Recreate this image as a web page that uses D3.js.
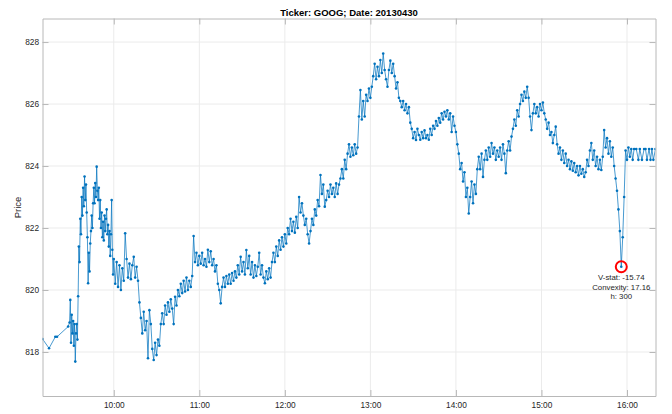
<!DOCTYPE html>
<html><head><meta charset="utf-8">
<script src="https://cdn.jsdelivr.net/npm/d3@7"></script>
<style>body{margin:0;background:#fff}svg{display:block}</style>
</head><body><svg id="c" width="672" height="414"></svg>
<script>
// ---- data (minutes after 09:00, trade price) ----
const preOpenTimes  = [10, 14.6, 19, 20.2, 28, 29];
const preOpenPrices = [818.42, 818.12, 818.49, 818.49, 818.82, 818.95];

const sessionTimes = [
 29.5,30,30.5,31,31.5,32,32.5,33,33.5,34,
 34.5,35,35.5,36,36.5,37,37.5,38,38.5,39,
 39.5,40,40.5,41,41.5,42,42.5,43,43.5,44,
 44.5,45,45.5,46,46.5,47,47.5,48,48.5,49,
 49.5,50,50.5,51,51.5,52,52.5,53,53.5,54,
 54.5,55,55.5,56,56.5,57,57.5,58,58.5,59,
 59.5,60,
 61,62,63,64,65,66,67,68,69,70,
 71,72,73,74,75,76,77,78,79,80,
 81,82,83,84,85,86,87,88,89,90,
 91,92,93,94,95,96,97,98,99,100,
 101,102,103,104,105,106,107,108,109,110,
 111,112,113,114,115,116,117,118,119,120,
 121,122,123,124,125,126,127,128,129,130,
 131,132,133,134,135,136,137,138,139,140,
 141,142,143,144,145,146,147,148,149,150,
 151,152,153,154,155,156,157,158,159,160,
 161,162,163,164,165,166,167,168,169,170,
 171,172,173,174,175,176,177,178,179,180,
 181,182,183,184,185,186,187,188,189,190,
 191,192,193,194,195,196,197,198,199,200,
 201,202,203,204,205,206,207,208,209,210,
 211,212,213,214,215,216,217,218,219,220,
 221,222,223,224,225,226,227,228,229,230,
 231,232,233,234,235,236,237,238,239,240,
 241,242,243,244,245,246,247,248,249,250,
 251,252,253,254,255,256,257,258,259,260,
 261,262,263,264,265,266,267,268,269,270,
 271,272,273,274,275,276,277,278,279,280,
 281,282,283,284,285,286,287,288,289,290,
 291,292,293,294,295,296,297,298,299,300,
 301,302,303,304,305,306,307,308,309,310,
 311,312,313,314,315,316,317,318,319,320,
 321,322,323,324,325,326,327,328,329,330,
 331,332,333,334,335,336,337,338,339,340,
 341,342,343,344,345,346,347,348,349,350,
 351,352,353,354,355,356,357,358,359,360,
 361,362,363,364,365,366,367,368,369,370,
 371,372,373,374,375,376,377,378,379,380,
 381,382,383,384,385,386,387,388,389,390,
 391,392,393,394,395,396,397,398,399,400,
 401,402,403,404,405,406,407,408,409,410,
 411,412,413,414,415,416,417,418,419,420,
 421,422
];
const sessionPrices = [
 819.68,818.3,819.2,818.6,819.0,818.2,818.9,817.69,818.6,818.9,
 818.4,819.8,821.4,820.9,822.3,821.8,823.0,822.4,823.3,822.7,
 823.66,822.9,823.4,822.5,821.7,820.22,821.2,820.6,821.5,821.9,
 822.4,822.0,822.8,823.3,822.8,823.45,823.0,823.98,823.2,822.9,
 823.3,822.3,822.9,822.0,822.5,821.7,822.2,821.6,822.4,821.9,
 822.3,822.6,821.8,822.1,821.4,821.9,821.1,821.8,822.9,821.3,
 820.5,821.0,
 820.2,820.9,820.1,820.8,820.0,820.7,820.3,821.83,821.0,820.4,
 820.85,820.35,820.8,821.07,820.4,820.75,820.3,819.6,819.1,818.6,
 819.3,818.7,819.0,817.8,819.35,818.9,818.1,817.74,818.3,817.9,
 818.4,818.2,818.9,819.25,818.9,819.5,819.2,819.6,819.3,819.7,
 819.4,818.9,819.78,819.5,820.0,819.8,820.2,819.9,820.3,819.95,
 820.4,820.0,820.3,820.1,820.45,821.74,820.9,821.2,820.8,821.1,
 820.85,821.2,820.8,821.0,820.75,821.3,820.9,821.25,820.8,821.0,
 820.6,820.8,820.2,820.0,819.57,820.1,820.4,820.1,820.45,820.2,
 820.5,820.2,820.55,820.3,820.6,820.4,820.8,820.5,821.07,820.6,
 820.9,820.5,821.29,820.7,821.1,820.5,820.9,820.4,820.8,820.45,
 820.75,821.2,820.5,820.8,820.4,820.22,820.6,820.35,820.7,820.4,
 820.9,821.2,820.9,821.4,821.1,821.6,821.3,821.7,821.4,821.8,
 821.5,822.0,821.8,822.3,821.9,822.2,821.85,822.36,822.0,823.0,
 822.5,822.8,822.4,822.1,822.3,821.8,821.5,821.9,822.3,822.1,
 822.6,822.4,822.9,822.7,823.71,823.1,823.4,822.69,822.9,823.2,
 823.0,823.4,823.1,823.3,823.0,823.44,823.1,823.4,823.6,823.9,
 823.6,824.2,823.9,824.4,824.7,824.3,824.6,824.35,824.7,824.4,
 824.6,825.6,826.45,825.5,826.1,825.6,826.3,826.1,826.5,826.2,
 826.56,826.9,827.3,826.8,827.2,826.9,827.42,827.0,827.63,827.1,
 826.8,826.56,827.1,827.4,827.0,827.3,826.9,826.5,826.7,826.2,
 826.1,825.9,826.1,825.8,826.0,825.7,825.9,825.4,825.2,824.9,
 825.1,824.84,825.2,825.0,824.85,825.1,824.9,825.15,824.9,825.0,
 824.85,825.2,825.0,825.3,825.2,825.45,825.3,825.55,825.4,825.7,
 825.5,825.75,825.6,825.8,825.5,825.7,825.1,825.6,825.3,825.1,
 824.7,824.4,823.9,824.1,823.5,823.8,823.0,823.3,822.47,823.0,
 823.5,822.8,823.4,823.1,823.9,824.3,823.9,824.4,823.65,824.2,
 824.5,824.2,824.6,824.3,824.74,824.4,824.6,824.2,824.5,824.3,
 824.6,824.2,824.7,824.4,823.77,824.5,824.8,824.5,824.95,825.2,
 825.5,825.3,825.8,825.6,826.0,826.3,826.1,826.4,826.2,826.56,
 826.2,825.6,825.16,825.7,826.0,825.7,825.9,825.6,826.0,825.8,
 826.05,825.7,825.5,825.2,825.4,825.0,825.1,824.74,825.0,825.27,
 824.7,824.4,824.6,824.2,824.5,824.1,824.4,824.0,824.2,823.9,
 824.15,823.85,824.1,823.8,824.0,823.7,824.0,823.75,823.9,823.65,
 823.8,824.2,824.0,824.5,824.74,824.2,824.5,824.0,824.3,823.9,
 824.2,823.87,824.3,825.16,824.6,824.9,824.4,824.8,824.3,824.6,
 824.0,823.6,823.2,822.6,821.9,820.75,821.7,823.0,824.5,824.2,
 824.6,824.3
];
const postCloseTimes  = [423,424,425,426.5,428,429,430.5,432,433,434,435.5,436.5,437.5,438.5,440];
const postClosePrices = [824.55,824.2,824.55,824.55,824.2,824.55,824.2,824.55,824.55,824.2,824.55,824.2,824.55,824.2,824.55];

const xTickMinutes = [60,120,180,240,300,360,420];
const xTickLabels  = ["10:00","11:00","12:00","13:00","14:00","15:00","16:00"];
const yTickValues  = [818,820,822,824,826,828];
const vPointTime = [416];
const vPointPrice = [820.75];
const annotationLines = ["V-stat: -15.74","Convexity: 17.16","h: 300"];
const titleText = "Ticker: GOOG; Date: 20130430";
const yLabelText = "Price";

// ---- drawing ----
const svg = d3.select("#c");
const L = 42.5, R = 655.5, T = 18.5, B = 396;
const x = d3.scaleLinear().domain([10, 440]).range([L, R]);
const y = d3.scaleLinear().domain([816.58, 828.76]).range([B, T]);
const font = "'Liberation Sans', Arial, Helvetica, sans-serif";
const axisCol = "#b8b8b8", txtCol = "#262626", blue = "#0072BD";

// grid
const g = svg.append("g");
g.selectAll(".gx").data(xTickMinutes).join("line")
  .attr("x1", d => x(d)).attr("x2", d => x(d)).attr("y1", T).attr("y2", B)
  .attr("stroke", "#ebebeb").attr("stroke-width", 1);
g.selectAll(".gy").data(yTickValues).join("line")
  .attr("x1", L).attr("x2", R).attr("y1", d => y(d)).attr("y2", d => y(d))
  .attr("stroke", "#ebebeb").attr("stroke-width", 1);

// series
const pts = [];
preOpenTimes.forEach((t,i) => pts.push([t, preOpenPrices[i]]));
sessionTimes.forEach((t,i) => pts.push([t, sessionPrices[i]]));
postCloseTimes.forEach((t,i) => pts.push([t, postClosePrices[i]]));

svg.append("clipPath").attr("id","clip").append("rect")
  .attr("x", L).attr("y", T).attr("width", R-L).attr("height", B-T);
const dg = svg.append("g").attr("clip-path","url(#clip)");
dg.append("path").datum(pts)
  .attr("d", d3.line().x(d => x(d[0])).y(d => y(d[1])))
  .attr("fill","none").attr("stroke", blue).attr("stroke-width", 0.9).attr("stroke-opacity", 0.8);
dg.selectAll("circle.p").data(pts).join("circle").attr("class","p")
  .attr("cx", d => x(d[0])).attr("cy", d => y(d[1])).attr("r", 1.3)
  .attr("fill", blue);

// axes
function styleAxis(sel){
  sel.selectAll("path.domain").attr("stroke", axisCol).attr("stroke-width", 1);
  sel.selectAll(".tick line").attr("stroke", axisCol).attr("stroke-width", 1);
  sel.selectAll(".tick text").attr("fill", txtCol).style("font-family", font).style("font-size", "8.3px");
}
const xAxis = d3.axisBottom(x).tickValues(xTickMinutes)
  .tickFormat((d,i) => xTickLabels[i]).tickSizeInner(-6).tickSizeOuter(0).tickPadding(6);
svg.append("g").attr("transform", `translate(0,${B})`).call(xAxis).call(styleAxis);
svg.append("g").attr("transform", `translate(0,${T})`)
  .call(d3.axisTop(x).tickValues(xTickMinutes).tickFormat("").tickSizeInner(-6).tickSizeOuter(0)).call(styleAxis);
const yAxis = d3.axisLeft(y).tickValues(yTickValues).tickFormat(d3.format("d"))
  .tickSizeInner(-6).tickSizeOuter(0).tickPadding(3.5);
svg.append("g").attr("transform", `translate(${L},0)`).call(yAxis).call(styleAxis);
svg.append("g").attr("transform", `translate(${R},0)`)
  .call(d3.axisRight(y).tickValues(yTickValues).tickFormat("").tickSizeInner(-6).tickSizeOuter(0)).call(styleAxis);

// V point marker
svg.selectAll("circle.v").data(vPointTime).join("circle").attr("class","v")
  .attr("cx", (d,i) => x(d)).attr("cy", (d,i) => y(vPointPrice[i])).attr("r", 5.5)
  .attr("fill","none").attr("stroke","#ff0000").attr("stroke-width", 2);

// annotation
const ax = x(vPointTime[0]);
svg.selectAll("text.ann").data(annotationLines).join("text").attr("class","ann")
  .attr("x", ax).attr("y", (d,i) => 280.3 + i*9.2)
  .attr("text-anchor","middle").attr("fill", txtCol)
  .style("font-family", font).style("font-size","7.8px").text(d => d);

// title and label
svg.append("text").attr("x", (L+R)/2).attr("y", 16).attr("text-anchor","middle")
  .attr("fill", "#000").style("font-family", font).style("font-size","9.5px").style("font-weight","bold")
  .text(titleText);
svg.append("text").attr("transform", "translate(21,207.5) rotate(-90)").attr("text-anchor","middle")
  .attr("fill", txtCol).style("font-family", font).style("font-size","9.5px").text(yLabelText);
</script></body></html>
